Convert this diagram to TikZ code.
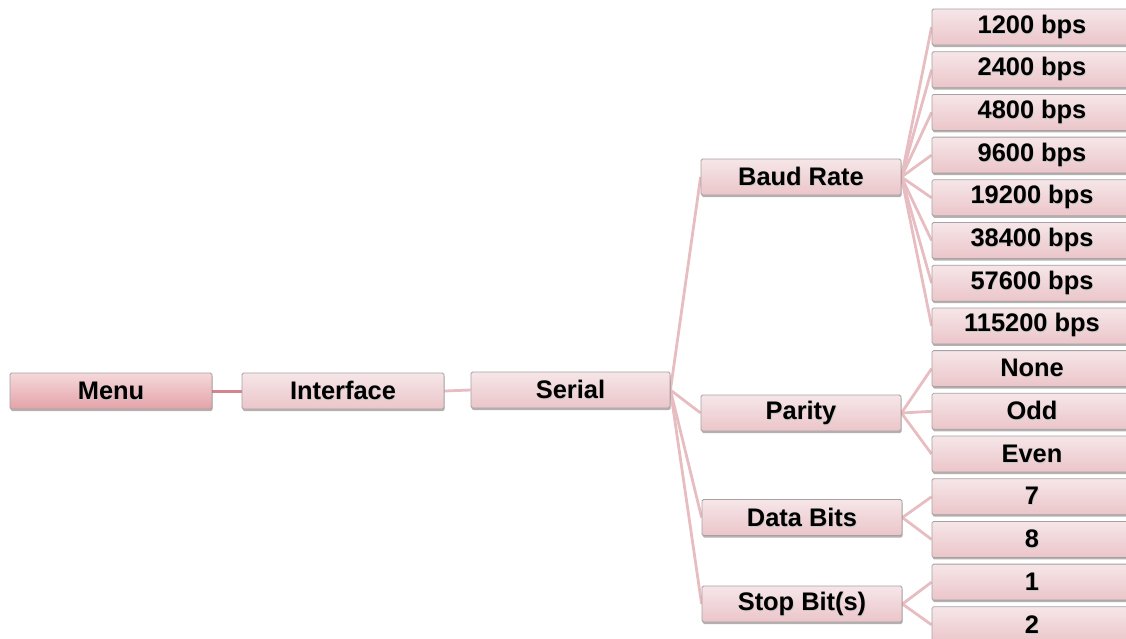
\documentclass[tikz,border=0pt]{standalone}
\usepackage{fontspec}
\setmainfont{Liberation Sans}
\usetikzlibrary{shadows,backgrounds}
\definecolor{boxedge}{HTML}{A8A0A1}
\definecolor{boxtop}{HTML}{F6E6E8}
\definecolor{boxbot}{HTML}{EBC5C9}
\definecolor{menutop}{HTML}{F5D8DA}
\definecolor{menubot}{HTML}{E3A2A8}
\definecolor{linkcol}{HTML}{E7BDC2}
\definecolor{rootlink}{HTML}{D4848C}
\newcommand\shtxt[1]{\leavevmode\rlap{\kern0.6pt\raisebox{-1pt}{\textcolor{black!22}{#1}}}#1}
\begin{document}
\begin{tikzpicture}[x=1pt,y=-1pt,
  box/.style={draw=boxedge, line width=0.8pt, rounded corners=1.5pt,
    top color=boxtop, bottom color=boxbot, minimum height=36pt, inner sep=0pt,
    font=\fontsize{25.4}{30}\selectfont\bfseries,
    drop shadow={shadow xshift=0.6pt, shadow yshift=-2pt, opacity=0.3, fill=black}},
  rootbox/.style={box, top color=menutop, bottom color=menubot},
  midbox/.style={box, minimum width=200pt},
  leaf/.style={box, minimum width=200pt},
  link/.style={draw=linkcol, line width=2.8pt},
  rlink/.style={draw=rootlink, line width=3pt}]
\useasboundingbox (0,0) rectangle (1126,638);
\clip (0,0) rectangle (1126,638);
% main chain
\node[rootbox, minimum width=202pt] (menu) at (111,391) {\shtxt{Menu}};
\node[box, minimum width=202pt] (interface) at (343,391) {\shtxt{Interface}};
\node[box, minimum width=199pt] (serial) at (570.5,390) {\shtxt{Serial}};
% second level
\node[midbox] (baud) at (801,177) {\shtxt{Baud Rate}};
\node[midbox] (parity) at (801,413) {\shtxt{Parity}};
\node[midbox] (data) at (802,517.5) {\shtxt{Data Bits}};
\node[midbox] (stop) at (802,604) {\shtxt{Stop Bit(s)}};
% leaves
\node[leaf] (b1) at (1032,27) {\shtxt{1200 bps}};
\node[leaf] (b2) at (1032,69.7) {\shtxt{2400 bps}};
\node[leaf] (b3) at (1032,112.4) {\shtxt{4800 bps}};
\node[leaf] (b4) at (1032,155.1) {\shtxt{9600 bps}};
\node[leaf] (b5) at (1032,197.8) {\shtxt{19200 bps}};
\node[leaf] (b6) at (1032,240.5) {\shtxt{38400 bps}};
\node[leaf] (b7) at (1032,283.2) {\shtxt{57600 bps}};
\node[leaf] (b8) at (1032,325.9) {\shtxt{115200 bps}};
\node[leaf] (p1) at (1032,368.6) {\shtxt{None}};
\node[leaf] (p2) at (1032,411.3) {\shtxt{Odd}};
\node[leaf] (p3) at (1032,454) {\shtxt{Even}};
\node[leaf] (d1) at (1032,496.7) {\shtxt{7}};
\node[leaf] (d2) at (1032,539.4) {\shtxt{8}};
\node[leaf] (s1) at (1032,582.1) {\shtxt{1}};
\node[leaf] (s2) at (1032,624.8) {\shtxt{2}};
% connectors
\begin{scope}[on background layer]
\draw[rlink] (menu.east) -- (interface.west);
\draw[link] (interface.east) -- (serial.west);
\foreach \c in {baud,parity,data,stop} \draw[link] (serial.east) -- (\c.west);
\foreach \c in {b1,b2,b3,b4,b5,b6,b7,b8} \draw[link] (baud.east) -- (\c.west);
\foreach \c in {p1,p2,p3} \draw[link] (parity.east) -- (\c.west);
\foreach \c in {d1,d2} \draw[link] (data.east) -- (\c.west);
\foreach \c in {s1,s2} \draw[link] (stop.east) -- (\c.west);
\end{scope}
\end{tikzpicture}
\end{document}
